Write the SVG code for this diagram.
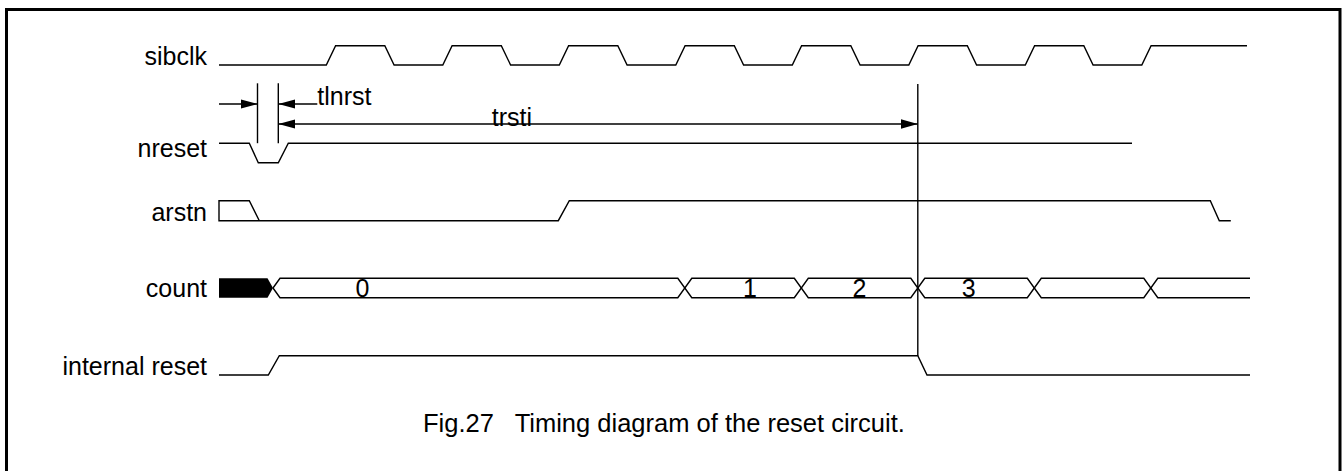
<svg xmlns="http://www.w3.org/2000/svg" width="1344" height="471" viewBox="0 0 1344 471">
<style>
  .lbl { font-family: "Liberation Sans", Arial, Helvetica, sans-serif; font-size: 25px; fill: #000; }
  .end { text-anchor: end; }
  .mid { text-anchor: middle; }
  .wave { fill: none; stroke: #000; stroke-width: 1.4; stroke-linejoin: miter; }
  .dim { fill: none; stroke: #000; stroke-width: 1.4; }
  .frame { fill: none; stroke: #000; stroke-width: 3; }
</style>
<defs>
  <marker id="ah" markerUnits="userSpaceOnUse" viewBox="0 0 17 9.4" markerWidth="17" markerHeight="9.4" refX="17" refY="4.7" orient="auto-start-reverse">
    <path d="M0,0 L17,4.7 L0,9.4 Z" fill="#000"/>
  </marker>
</defs>
<rect width="1344" height="471" fill="#fff"/>
<path class="frame" d="M6.5,471 V9.5 H1340 V471"/>

<g id="sibclk">
  <text class="lbl end" x="207" y="65">sibclk</text>
  <path class="wave" d="M219,65 H326.3 L335.6,45.7 H384.8 L394.1,65 H442.8 L452.1,45.7 H501.3 L510.6,65 H559.3 L568.6,45.7 H617.8 L627.1,65 H675.8 L685.1,45.7 H734.3 L743.6,65 H792.3 L801.6,45.7 H850.8 L860.1,65 H908.8 L918.1,45.7 H967.3 L976.6,65 H1025.3 L1034.6,45.7 H1083.8 L1093.1,65 H1141.8 L1151.1,45.7 H1247"/>
</g>

<g id="nreset">
  <text class="lbl end" x="207" y="156.7">nreset</text>
  <path class="wave" d="M219,143.2 H249.3 L258.3,162.7 H278.3 L288.3,143.2 H1132"/>
</g>

<g id="arstn">
  <text class="lbl end" x="207" y="220.5">arstn</text>
  <path class="wave" d="M259.3,220.7 L249.3,200.7 H219 V220.7 H558.3 L569.3,200.7 H1210.3 L1219.3,220.7 H1230.8"/>
</g>

<g id="count">
  <text class="lbl end" x="207" y="296.7">count</text>
  <polygon points="219,278.3 267.5,278.3 273,288 267.5,297.7 219,297.7" fill="#000"/>
  <path class="wave" d="M273,288 L280,278.3 H677.8 L691.8,297.7 H794.3 L808.3,278.3 H910.8 L924.8,297.7 H1027.3 L1041.3,278.3 H1143.8 L1157.8,297.7 H1250"/>
  <path class="wave" d="M273,288 L280,297.7 H677.8 L691.8,278.3 H794.3 L808.3,297.7 H910.8 L924.8,278.3 H1027.3 L1041.3,297.7 H1143.8 L1157.8,278.3 H1250"/>
  <text class="lbl mid" x="362.5" y="296.7">0</text>
  <text class="lbl mid" x="750" y="296.7">1</text>
  <text class="lbl mid" x="859.5" y="296.7">2</text>
  <text class="lbl mid" x="968.8" y="296.7">3</text>
</g>

<g id="internal-reset">
  <text class="lbl end" x="207" y="375">internal reset</text>
  <path class="wave" d="M219,375 H268.3 L279.3,355.7 H917.8 L927,375 H1250"/>
</g>

<g id="connectors">
  <line class="dim" x1="257.5" y1="83.3" x2="257.5" y2="143.2"/>
  <line class="dim" x1="278.3" y1="83.3" x2="278.3" y2="143.2"/>
  <line class="dim" x1="917.8" y1="84" x2="917.8" y2="355.7"/>
  <line class="dim" x1="219" y1="104" x2="257.5" y2="104" marker-end="url(#ah)"/>
  <line class="dim" x1="317.3" y1="104" x2="278.3" y2="104" marker-end="url(#ah)"/>
  <line class="dim" x1="278.3" y1="124" x2="917.8" y2="124" marker-start="url(#ah)" marker-end="url(#ah)"/>
  <text class="lbl" x="317.3" y="105">tlnrst</text>
  <text class="lbl" x="491.7" y="126">trsti</text>
</g>

<g id="caption">
  <text class="lbl" x="423" y="432.3" xml:space="preserve" style="white-space:pre;font-size:25.5px">Fig.27   Timing diagram of the reset circuit.</text>
</g>
</svg>
